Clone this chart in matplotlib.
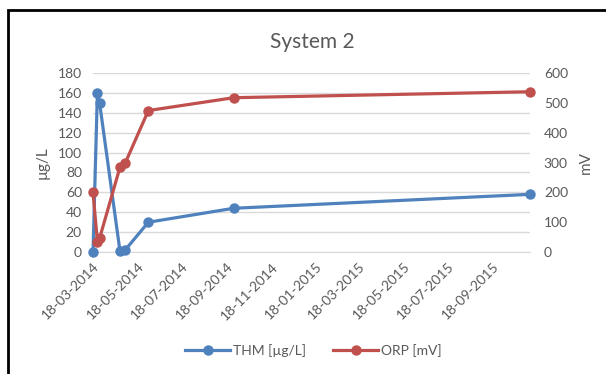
import matplotlib
matplotlib.use("Agg")
import matplotlib.pyplot as plt
import pandas as pd
from matplotlib.lines import Line2D
from matplotlib.patches import Rectangle

plt.rcParams['font.family'] = ['Lato', 'DejaVu Sans']

# Sampling dates and measured values
dates = pd.to_datetime(["2014-03-18", "2014-03-24", "2014-03-27", "2014-04-24",
                        "2014-05-01", "2014-06-02", "2014-09-27", "2015-11-08"])
thm = [0, 160, 150, 1, 2, 30, 44, 58]          # µg/L
orp = [200, 35, 46, 284, 297, 474, 517, 537]   # mV

tick_dates = pd.date_range("2014-03-18", "2015-09-18", freq=pd.DateOffset(months=2))
tick_labels = [d.strftime("%d-%m-%Y") for d in tick_dates]

blue = "#4F81BD"
red = "#C0504D"
grey_text = "#595959"
grid_col = "#D9D9D9"

fig = plt.figure(figsize=(6.06, 3.74), dpi=100)
ax = fig.add_axes([0.1535, 0.326, 0.721, 0.479])
ax2 = ax.twinx()

ax.plot(dates, thm, color=blue, lw=2.3, marker="o", ms=6.5, zorder=3, clip_on=False)
ax2.plot(dates, orp, color=red, lw=2.3, marker="o", ms=6.5, zorder=3, clip_on=False)

ax.set_xlim(dates[0], dates[-1])
ax.set_ylim(0, 180)
ax.set_yticks(range(0, 181, 20))
ax2.set_ylim(0, 600)
ax2.set_yticks(range(0, 601, 100))

ax.set_xticks(tick_dates)
ax.set_xticklabels(tick_labels, rotation=45, ha="right", rotation_mode="anchor")

for a in (ax, ax2):
    for s in a.spines.values():
        s.set_visible(False)
    a.tick_params(length=0, colors=grey_text, labelsize=10)
ax.tick_params(axis="x", pad=6)
ax.tick_params(axis="y", pad=8)
ax2.tick_params(axis="y", pad=10)

ax.grid(axis="y", color=grid_col, lw=1)
ax.set_axisbelow(True)
ax.spines["bottom"].set_visible(True)
ax.spines["bottom"].set_color(grid_col)

ax.set_ylabel("µg/L", color=grey_text, fontsize=11, labelpad=6)
ax2.set_ylabel("mV", color=grey_text, fontsize=11, labelpad=8)

fig.text(0.515, 0.887, "System 2", ha="center", va="center", fontsize=15, color=grey_text)

handles = [Line2D([], [], color=blue, lw=2.3, marker="o", ms=6.5),
           Line2D([], [], color=red, lw=2.3, marker="o", ms=6.5)]
fig.legend(handles, ["THM [µg/L]", "ORP [mV]"], loc="center", bbox_to_anchor=(0.517, 0.062),
           ncol=2, frameon=False, fontsize=10, labelcolor=grey_text, handlelength=3.2,
           columnspacing=2.0, handletextpad=0.2)

# Chart frame
fig.patches.append(Rectangle((8 / 606, -0.01), 1.1, 1 - 10 / 374 + 0.01, transform=fig.transFigure,
                             fill=False, edgecolor="black", lw=2, zorder=10))

fig.savefig("out.png", dpi=100)
